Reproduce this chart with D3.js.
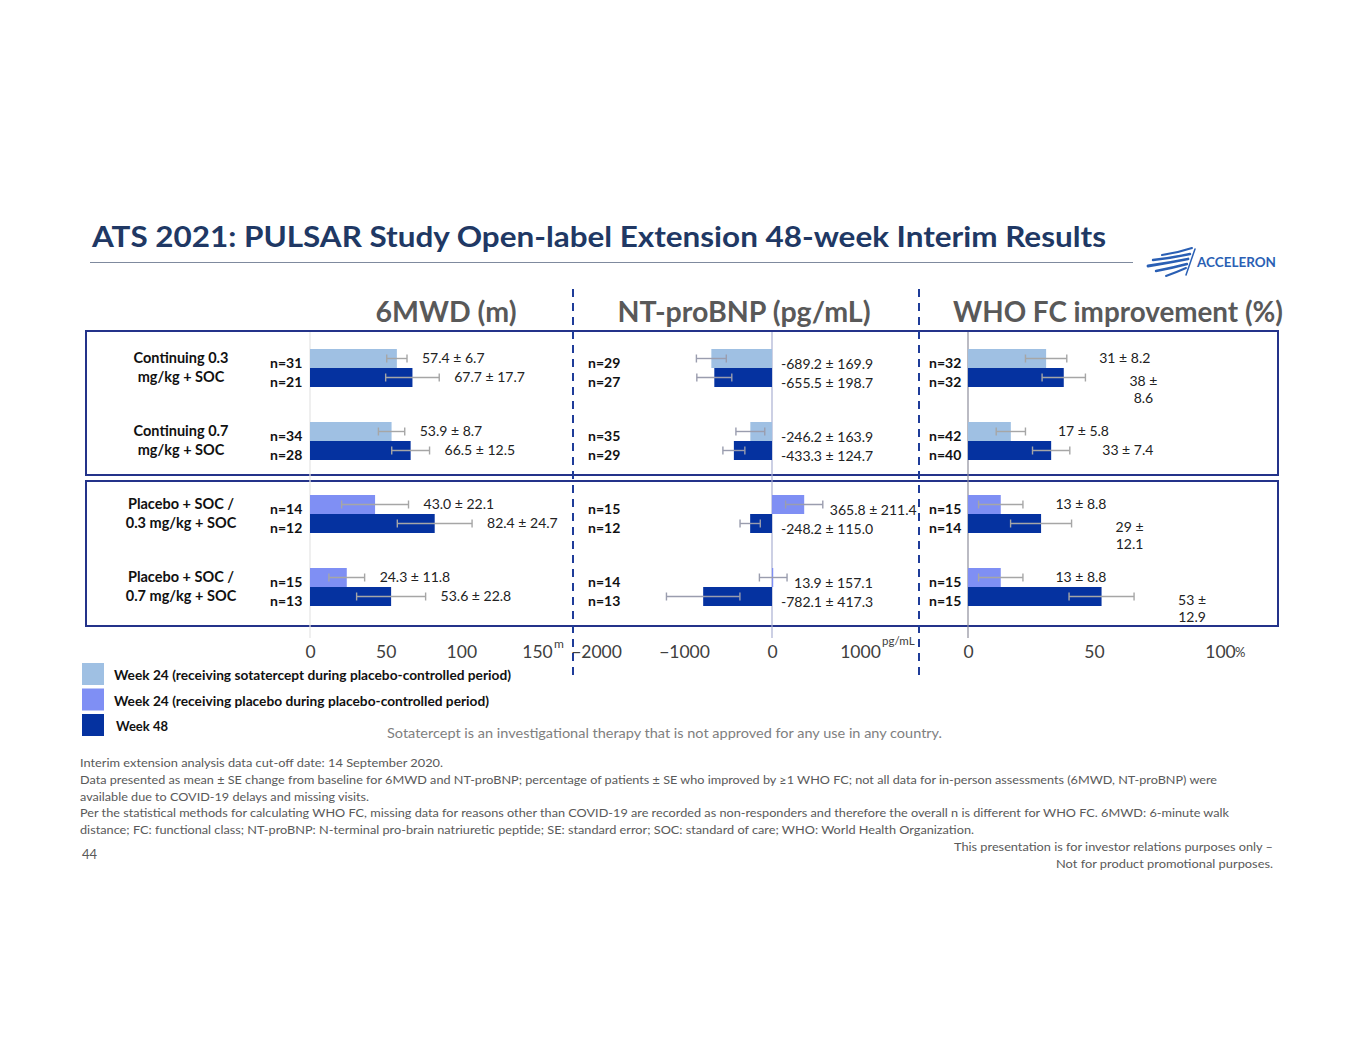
<!DOCTYPE html>
<html lang="en">
<head>
<meta charset="UTF-8">
<title>PULSAR OLE 48-week interim</title>
<script src="https://cdn.jsdelivr.net/npm/d3@7"></script>
<style>
  *{margin:0;padding:0}
  body{background:#fff;font-family:Lato,"Open Sans",sans-serif}
  .lbl{font-size:14px;fill:#222}
  .nlbl{font-size:14px;font-weight:bold;fill:#111}
  .rowlbl{font-size:14.5px;font-weight:bold;fill:#111}
  .foot{font-size:12px;fill:#595959}
  .ptitle{font-size:28px;font-weight:bold;fill:#595959}
  .leg{font-size:12.5px;font-weight:bold;fill:#111}
</style>
</head>
<body>
<div id="chart"></div>
<script>
// groups (rows)
var groups = ["Continuing 0.3 mg/kg + SOC", "Continuing 0.7 mg/kg + SOC",
              "Placebo + SOC / 0.3 mg/kg + SOC", "Placebo + SOC / 0.7 mg/kg + SOC"];
var groupLines = [["Continuing 0.3", "mg/kg + SOC"], ["Continuing 0.7", "mg/kg + SOC"],
                  ["Placebo + SOC /", "0.3 mg/kg + SOC"], ["Placebo + SOC /", "0.7 mg/kg + SOC"]];
// what the patients got during the placebo-controlled period (colours week 24 bar)
var week24Arm = ["sotatercept", "sotatercept", "placebo", "placebo"];

// 6MWD (m)
var mwd24 = [57.4, 53.9, 43.0, 24.3], mwd24se = [6.7, 8.7, 22.1, 11.8], mwd24n = [31, 34, 14, 15];
var mwd48 = [67.7, 66.5, 82.4, 53.6], mwd48se = [17.7, 12.5, 24.7, 22.8], mwd48n = [21, 28, 12, 13];
// NT-proBNP (pg/mL)
var nt24 = [-689.2, -246.2, 365.8, 13.9], nt24se = [169.9, 163.9, 211.4, 157.1], nt24n = [29, 35, 15, 14];
var nt48 = [-655.5, -433.3, -248.2, -782.1], nt48se = [198.7, 124.7, 115.0, 417.3], nt48n = [27, 29, 12, 13];
// WHO FC improvement (%)
var who24 = [31, 17, 13, 13], who24se = [8.2, 5.8, 8.8, 8.8], who24n = [32, 42, 15, 15];
var who48 = [38, 33, 29, 53], who48se = [8.6, 7.4, 12.1, 12.9], who48n = [32, 40, 14, 15];
var who24Lbl = ["31 ± 8.2", "17 ± 5.8", "13 ± 8.8", "13 ± 8.8"];
var who48Lbl = ["38 ±\n8.6", "33 ± 7.4", "29 ±\n12.1", "53 ±\n12.9"];

var mwdTicks = [0, 50, 100, 150], ntTicks = [-2000, -1000, 0, 1000], whoTicks = [0, 50, 100];

var colors = {sotatercept: "#9fc0e3", placebo: "#7f8ff4", w48: "#0532a0"};

var svg = d3.select("#chart").append("svg").attr("width", 1365).attr("height", 1055);

// title
svg.append("text").attr("x", 92).attr("y", 247).attr("textLength", 1014).attr("lengthAdjust", "spacingAndGlyphs")
    .style("font-size", "29px").style("font-weight", "bold").style("fill", "#203864")
    .text("ATS 2021: PULSAR Study Open-label Extension 48-week Interim Results");
svg.append("line").attr("x1", 90).attr("x2", 1133).attr("y1", 262.5).attr("y2", 262.5)
    .attr("stroke", "#7f8a9e").attr("stroke-width", 1);

// logo
var logo = svg.append("g").attr("fill", "none").attr("stroke", "#2a5fb4").attr("stroke-linecap", "round");
[["M1162,255 Q1177,253 1192,248", 2], ["M1153,260 Q1171,258 1190,254", 2.4], ["M1148,266 Q1168,263 1188,259", 2.8],
 ["M1156,271 Q1172,268 1187,264", 2.4], ["M1166,276 Q1177,272 1186,268", 2], ["M1186,275 L1195,249", 1.5]]
    .forEach(function (p) { logo.append("path").attr("d", p[0]).attr("stroke-width", p[1]); });
svg.append("text").attr("x", 1197).attr("y", 267).attr("textLength", 79).attr("lengthAdjust", "spacingAndGlyphs")
    .style("font-size", "13.5px").style("font-weight", "bold").style("fill", "#2a5fb4").text("ACCELERON");

// panel titles
[["6MWD (m)", 446, 141], ["NT-proBNP (pg/mL)", 744, 253], ["WHO FC improvement (%)", 1118, 330]].forEach(function (t) {
    svg.append("text").attr("class", "ptitle").attr("x", t[1]).attr("y", 322).attr("text-anchor", "middle")
        .attr("textLength", t[2]).attr("lengthAdjust", "spacingAndGlyphs").text(t[0]);
});

// scales
var y = d3.scaleBand().domain(groups).range([331.5, 623.5]);
var sub = d3.scaleBand().domain(["w24", "w48"]).range([-19, 19]);
var x6 = d3.scaleLinear().domain([0, 150]).range([310, 537]);
var xNT = d3.scaleLinear().domain([-2000, 1000]).range([596, 860]);
var xWHO = d3.scaleLinear().domain([0, 100]).range([968, 1220]);

// boxes around the two cohorts
svg.append("rect").attr("x", 86).attr("y", 331).attr("width", 1192).attr("height", 144)
    .attr("fill", "none").attr("stroke", "#24338a").attr("stroke-width", 2);
svg.append("rect").attr("x", 86).attr("y", 481).attr("width", 1192).attr("height", 145)
    .attr("fill", "none").attr("stroke", "#24338a").attr("stroke-width", 2);

var panels = [
    {scale: x6, v24: mwd24, se24: mwd24se, n24: mwd24n, v48: mwd48, se48: mwd48se, n48: mwd48n, nx: 270,
     zero: "#e4e4e4", err: "#a6a6a6", ticks: mwdTicks,
     lbl24: mwd24.map(function (v, i) { return v.toFixed(1) + " ± " + mwd24se[i].toFixed(1); }),
     lbl48: mwd48.map(function (v, i) { return v.toFixed(1) + " ± " + mwd48se[i].toFixed(1); }),
     lx: function (v, se) { return x6(v + se) + 15; }, anchor: "start", dy: 4},
    {scale: xNT, v24: nt24, se24: nt24se, n24: nt24n, v48: nt48, se48: nt48se, n48: nt48n, nx: 588,
     zero: "#aab0d2", err: "#9a9dae", ticks: ntTicks,
     lbl24: nt24.map(function (v, i) { return v.toFixed(1) + " ± " + nt24se[i].toFixed(1); }),
     lbl48: nt48.map(function (v, i) { return v.toFixed(1) + " ± " + nt48se[i].toFixed(1); }),
     lx: function (v, se) { return Math.max(xNT(0) + 9, xNT(v + se) + 7); }, anchor: "start", dy: 10},
    {scale: xWHO, v24: who24, se24: who24se, n24: who24n, v48: who48, se48: who48se, n48: who48n, nx: 929,
     zero: "#8e8e9c", err: "#a6a6a6", ticks: whoTicks,
     lbl24: who24Lbl, lbl48: who48Lbl,
     lx: function (v, se) { return xWHO(v + se) + 58; }, anchor: "middle", dy: 4}
];

panels.forEach(function (p) {
    var g = svg.append("g");
    var x = p.scale;
    g.append("line").attr("x1", x(0)).attr("x2", x(0)).attr("y1", 332).attr("y2", 638)
        .attr("stroke", p.zero).attr("stroke-width", 1.2);

    var rows = [];
    groups.forEach(function (gr, i) {
        rows.push({g: gr, s: "w24", v: p.v24[i], se: p.se24[i], n: p.n24[i], lbl: p.lbl24[i],
                   c: colors[week24Arm[i]]});
        rows.push({g: gr, s: "w48", v: p.v48[i], se: p.se48[i], n: p.n48[i], lbl: p.lbl48[i], c: colors.w48});
    });
    function yc(d) { return y(d.g) + y.bandwidth() / 2 + sub(d.s) + sub.bandwidth() / 2; }

    g.selectAll(".bar").data(rows).enter().append("rect")
        .attr("x", function (d) { return Math.min(x(0), x(d.v)); })
        .attr("y", function (d) { return yc(d) - sub.bandwidth() / 2; })
        .attr("width", function (d) { return Math.abs(x(d.v) - x(0)); })
        .attr("height", sub.bandwidth())
        .attr("fill", function (d) { return d.c; });

    var eb = g.selectAll(".err").data(rows).enter().append("g")
        .attr("stroke", p.err).attr("stroke-width", 1.4);
    eb.append("line").attr("x1", function (d) { return x(d.v - d.se); }).attr("x2", function (d) { return x(d.v + d.se); })
        .attr("y1", yc).attr("y2", yc);
    eb.append("line").attr("x1", function (d) { return x(d.v - d.se); }).attr("x2", function (d) { return x(d.v - d.se); })
        .attr("y1", function (d) { return yc(d) - 4; }).attr("y2", function (d) { return yc(d) + 4; });
    eb.append("line").attr("x1", function (d) { return x(d.v + d.se); }).attr("x2", function (d) { return x(d.v + d.se); })
        .attr("y1", function (d) { return yc(d) - 4; }).attr("y2", function (d) { return yc(d) + 4; });

    g.selectAll(".nlbl").data(rows).enter().append("text").attr("class", "nlbl")
        .attr("x", p.nx).attr("y", function (d) { return yc(d) + 9; })
        .text(function (d) { return "n=" + d.n; });

    g.selectAll(".lbl").data(rows).enter().append("text").attr("class", "lbl")
        .attr("text-anchor", p.anchor)
        .attr("x", function (d) { return p.lx(d.v, d.se); })
        .attr("y", function (d) { return yc(d) + (d.lbl.indexOf("\n") > 0 ? 8 : p.dy); })
        .each(function (d) {
            var t = d3.select(this), parts = d.lbl.split("\n"), xx = p.lx(d.v, d.se);
            parts.forEach(function (s, k) {
                t.append("tspan").attr("x", xx).attr("dy", k ? 17 : 0).text(s);
            });
        });

    var ax = svg.append("g").attr("transform", "translate(0,638)")
        .call(d3.axisBottom(x).tickValues(p.ticks).tickSize(0).tickPadding(8).tickFormat(d3.format("d")));
    ax.select(".domain").remove();
    ax.selectAll("text").style("font-family", "Lato, sans-serif").style("font-size", "17.5px").style("fill", "#404040");
});

// units next to the last tick
svg.append("text").attr("x", x6(150) + 17).attr("y", 648).style("font-size", "12px").style("fill", "#404040").text("m");
svg.append("text").attr("x", xNT(1000) + 22).attr("y", 645).style("font-size", "11.5px").style("fill", "#404040").text("pg/mL");
svg.append("text").attr("x", xWHO(100) + 15).attr("y", 657).style("font-size", "13px").style("fill", "#404040").text("%");

// row labels
groups.forEach(function (gr, i) {
    var c = y(gr) + y.bandwidth() / 2;
    groupLines[i].forEach(function (s, k) {
        svg.append("text").attr("class", "rowlbl").attr("x", 181).attr("y", c - 5 + k * 19)
            .attr("text-anchor", "middle").text(s);
    });
});

// dashed separators
[573, 919].forEach(function (xx) {
    svg.append("line").attr("x1", xx).attr("x2", xx).attr("y1", 289).attr("y2", 681)
        .attr("stroke", "#1f3c99").attr("stroke-width", 2).attr("stroke-dasharray", "8,6");
});

// legend
var legend = [["Week 24 (receiving sotatercept during placebo-controlled period)", colors.sotatercept, 397],
              ["Week 24 (receiving placebo during placebo-controlled period)", colors.placebo, 375],
              ["Week 48", colors.w48, 52]];
legend.forEach(function (l, i) {
    var yy = 663 + i * 25.5;
    svg.append("rect").attr("x", 82).attr("y", yy).attr("width", 22).attr("height", 22).attr("fill", l[1]);
    svg.append("text").attr("class", "leg").attr("x", i == 2 ? 116 : 114).attr("y", yy + 17)
        .attr("textLength", l[2]).attr("lengthAdjust", "spacingAndGlyphs").text(l[0]);
});

svg.append("text").attr("x", 387).attr("y", 738).attr("textLength", 555).attr("lengthAdjust", "spacingAndGlyphs")
    .style("font-size", "13.5px").style("fill", "#808080")
    .text("Sotatercept is an investigational therapy that is not approved for any use in any country.");

// footnotes
var foot = [
    ["Interim extension analysis data cut-off date: 14 September 2020.", 767, 363],
    ["Data presented as mean ± SE change from baseline for 6MWD and NT-proBNP; percentage of patients ± SE who improved by ≥1 WHO FC; not all data for in-person assessments (6MWD, NT-proBNP) were", 784, 1137],
    ["available due to COVID-19 delays and missing visits.", 801, 289],
    ["Per the statistical methods for calculating WHO FC, missing data for reasons other than COVID-19 are recorded as non-responders and therefore the overall n is different for WHO FC. 6MWD: 6-minute walk", 817, 1149],
    ["distance; FC: functional class; NT-proBNP: N-terminal pro-brain natriuretic peptide; SE: standard error; SOC: standard of care; WHO: World Health Organization.", 834, 894]
];
foot.forEach(function (f) {
    svg.append("text").attr("class", "foot").attr("x", 80).attr("y", f[1])
        .attr("textLength", f[2]).attr("lengthAdjust", "spacingAndGlyphs").text(f[0]);
});
svg.append("text").attr("class", "foot").attr("x", 82).attr("y", 859).style("font-size", "13px").text("44");
svg.append("text").attr("class", "foot").attr("x", 954).attr("y", 851)
    .attr("textLength", 319).attr("lengthAdjust", "spacingAndGlyphs")
    .text("This presentation is for investor relations purposes only –");
svg.append("text").attr("class", "foot").attr("x", 1056).attr("y", 868)
    .attr("textLength", 217).attr("lengthAdjust", "spacingAndGlyphs")
    .text("Not for product promotional purposes.");
</script>
</body>
</html>
